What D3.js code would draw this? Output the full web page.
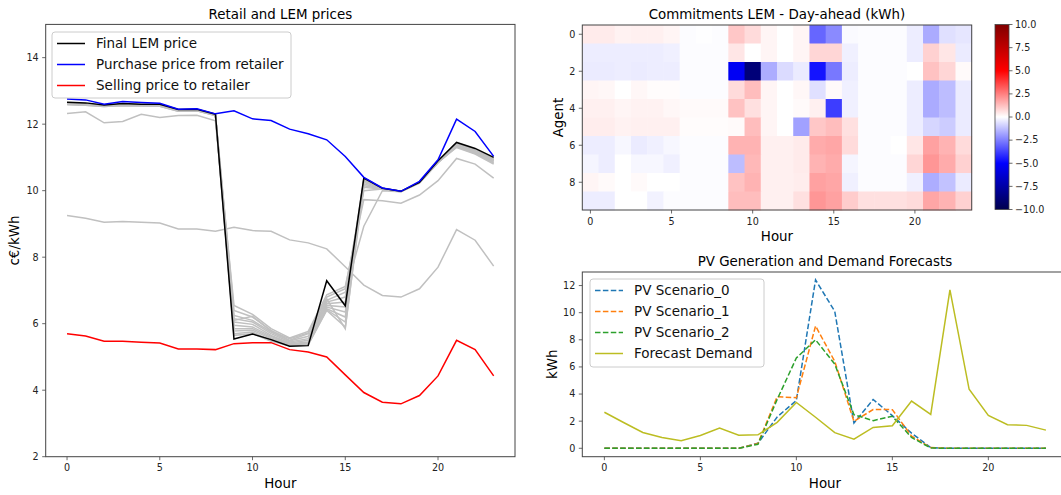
<!DOCTYPE html>
<html>
<head>
<meta charset="utf-8">
<script src="https://cdn.jsdelivr.net/npm/d3@7"></script>
<style>
  body { margin: 0; background: #fff; }
  svg { display: block; font-family: "DejaVu Sans", sans-serif; }
</style>
</head>
<body>
<svg id="fig" width="1061" height="495"></svg>
<script>
// ---- data ----
var hours = d3.range(0, 24)
var agents = d3.range(0, 10)

var finalLem = [12.66,12.64,12.58,12.62,12.60,12.60,12.44,12.45,12.30,5.54,5.69,5.52,5.32,5.34,7.29,6.54,10.38,10.07,9.98,10.25,10.90,11.45,11.27,11.00]
var purchasePrice = [12.76,12.73,12.60,12.68,12.65,12.63,12.45,12.46,12.31,12.40,12.16,12.11,11.85,11.71,11.53,11.03,10.40,10.08,9.98,10.28,10.93,12.15,11.78,11.03]
var sellingPrice = [5.70,5.63,5.47,5.47,5.44,5.42,5.24,5.24,5.22,5.40,5.43,5.43,5.22,5.15,5.00,4.46,3.93,3.64,3.59,3.84,4.43,5.50,5.22,4.43]

// intermediate LEM price iterations (grey)
var greyIterations = [
  [12.32,12.37,12.04,12.08,12.30,12.20,12.26,12.27,12.10,6.55,6.28,5.85,5.57,5.77,6.87,7.12,9.73,9.70,9.62,9.87,10.30,10.97,10.80,10.38],
  [9.25,9.17,9.05,9.07,9.05,9.03,8.85,8.85,8.78,8.90,8.80,8.78,8.52,8.43,8.25,7.71,7.16,6.85,6.80,7.05,7.70,8.83,8.51,7.73],
  [12.63,12.61,12.56,12.60,12.58,12.58,12.42,12.43,12.29,6.40,6.20,5.80,5.50,5.70,6.80,7.05,10.00,10.05,9.98,10.24,10.86,11.38,11.20,10.92],
  [12.61,12.59,12.55,12.58,12.57,12.56,12.41,12.42,12.28,6.25,6.10,5.75,5.48,5.62,6.70,6.95,8.93,10.00,9.97,10.23,10.84,11.35,11.16,10.88],
  [12.60,12.58,12.54,12.57,12.56,12.55,12.40,12.41,12.27,6.15,6.05,5.70,5.45,5.55,6.65,6.80,10.30,10.06,9.98,10.24,10.85,11.33,11.14,10.85],
  [12.62,12.60,12.55,12.59,12.57,12.57,12.41,12.42,12.28,6.05,5.98,5.65,5.42,5.50,6.60,6.65,10.20,10.05,9.98,10.24,10.86,11.36,11.18,10.90],
  [12.59,12.57,12.53,12.56,12.55,12.54,12.39,12.40,12.26,5.95,5.90,5.62,5.40,5.45,6.55,6.50,10.35,10.07,9.98,10.25,10.87,11.40,11.22,10.95],
  [12.61,12.59,12.54,12.58,12.56,12.56,12.40,12.41,12.27,5.85,5.85,5.58,5.38,5.42,6.50,6.35,10.10,10.04,9.97,10.24,10.85,11.32,11.12,10.83],
  [12.60,12.58,12.55,12.57,12.56,12.55,12.40,12.41,12.27,5.78,5.80,5.55,5.36,5.40,6.45,6.20,10.25,10.06,9.98,10.24,10.86,11.37,11.19,10.91],
  [12.62,12.60,12.56,12.59,12.58,12.57,12.42,12.42,12.28,5.70,5.75,5.50,5.35,5.38,6.42,6.05,10.32,10.07,9.98,10.25,10.87,11.41,11.23,10.96],
  [12.59,12.57,12.53,12.56,12.55,12.54,12.39,12.40,12.26,5.65,5.70,5.47,5.34,5.36,6.40,5.90,10.15,10.05,9.97,10.24,10.85,11.30,11.10,10.80],
  [12.61,12.59,12.55,12.58,12.57,12.56,12.41,12.41,12.28,6.10,6.22,5.78,5.55,5.72,6.75,5.85,10.36,10.07,9.98,10.25,10.86,11.39,11.21,10.94]
]

// day-ahead commitments, rows = agents, columns = hours
var commitments = [
  [0.4,0.4,0.25,0.3,0.3,0.2,-0.05,-0.02,-0.05,1.1,0.7,0.2,0,0.2,-3.0,-2.3,-0.1,-0.05,-0.05,-0.05,-0.35,-1.65,-0.6,-0.5],
  [-0.35,-0.35,-0.35,-0.35,-0.35,-0.3,-0.05,-0.05,-0.05,0.5,0,0.2,0,0.2,0.8,0.8,-0.3,-0.05,-0.05,-0.05,-0.35,0.9,0.5,-0.4],
  [-0.4,-0.4,-0.35,-0.4,-0.35,-0.35,-0.05,-0.05,-0.05,-5.3,-8.8,-1.6,-0.7,-0.4,-4.6,-2.65,-0.35,-0.05,-0.05,-0.05,0,1.2,0.8,0.1],
  [0.2,0.15,0,0.15,0.05,0.05,-0.05,-0.05,-0.05,0.7,1.3,0.2,0,0.15,-0.6,0.1,-0.3,-0.05,-0.05,-0.05,-0.35,-1.65,-1.3,-0.4],
  [0.3,0.3,0.2,0.25,0.25,0.15,0.1,0.1,0.1,1.2,0.6,0.2,0,0.1,0.3,-3.8,-0.3,-0.05,-0.05,-0.05,-0.35,-1.65,-1.3,-0.4],
  [0.35,0.35,0.25,0.3,0.3,0.3,0.05,0.05,0.05,0.1,1.3,0.2,0,-1.85,1.1,1.3,0.6,-0.05,-0.05,-0.05,-0.35,-0.8,-1.0,-0.4],
  [-0.35,-0.35,-0.15,-0.4,-0.3,-0.15,-0.05,-0.05,-0.05,1.5,1.5,0.3,0.3,0.4,1.65,1.75,0.7,-0.05,-0.05,0,0.5,1.85,1.5,0.7],
  [-0.2,-0.35,0,-0.15,-0.15,-0.3,-0.05,-0.05,-0.05,-1.3,1.4,0.3,0.3,0.4,1.5,1.65,-0.2,-0.05,-0.05,-0.05,0.8,2.05,1.65,0.9],
  [0.2,0.1,0,0.1,0,0,-0.05,-0.05,-0.05,1.2,1.5,0.3,0.3,0.35,1.85,1.75,-0.3,-0.05,-0.05,-0.05,-0.3,-1.6,-1.2,-0.4],
  [-0.35,-0.35,0,0,-0.25,-0.05,-0.05,-0.05,-0.05,1.3,1.3,0.3,0.3,0.6,2.05,1.85,1.0,0.6,0.6,0.6,0.7,1.75,1.5,0.9]
]

var pvScenario0 = [0,0,0,0,0,0,0,0,0.37,2.31,3.53,12.42,10.10,1.86,3.60,2.41,1.12,0.05,0,0,0,0,0,0]
var pvScenario1 = [0,0,0,0,0,0,0,0,0.35,3.80,3.73,9.02,6.41,1.99,2.86,2.85,0.90,0.05,0,0,0,0,0,0]
var pvScenario2 = [0,0,0,0,0,0,0,0,0.30,3.60,6.66,8.00,6.21,2.48,2.04,2.36,0.80,0.02,0,0,0,0,0,0]
var forecastDemand = [2.66,1.90,1.17,0.80,0.55,0.94,1.49,0.97,0.99,1.91,3.38,2.29,1.15,0.67,1.54,1.66,3.48,2.50,11.68,4.35,2.43,1.74,1.69,1.34]

var priceTicks = [2, 4, 6, 8, 10, 12, 14]
var hourTicks = [0, 5, 10, 15, 20]
var agentTicks = [0, 2, 4, 6, 8]
var cbarTicks = [-10, -7.5, -5, -2.5, 0, 2.5, 5, 7.5, 10]
var pvTicks = [0, 2, 4, 6, 8, 10, 12]

var svg = d3.select("#fig")
svg.append("rect").attr("width", 1061).attr("height", 495).attr("fill", "#fff")

var tickFont = 9.6
var labelFont = 13.4
var spine = "#444"

function drawAxes(g, x, y, xt, yt, xfmt, yfmt) {
  var x0 = x.range()[0], x1 = x.range()[1]
  var y0 = y.range()[0], y1 = y.range()[1]
  // ticks bottom
  xt.forEach(function (v) {
    g.append("line").attr("x1", x(v)).attr("x2", x(v)).attr("y1", y0).attr("y2", y0 + 3.5).attr("stroke", spine).attr("stroke-width", 0.8)
    g.append("text").attr("x", x(v)).attr("y", y0 + 14.5).attr("text-anchor", "middle")
      .style("font-size", tickFont + "px").attr("fill", "#222").text(xfmt ? xfmt(v) : v)
  })
  yt.forEach(function (v) {
    g.append("line").attr("x1", x0 - 3.5).attr("x2", x0).attr("y1", y(v)).attr("y2", y(v)).attr("stroke", spine).attr("stroke-width", 0.8)
    g.append("text").attr("x", x0 - 7).attr("y", y(v)).attr("dy", "0.35em").attr("text-anchor", "end")
      .style("font-size", tickFont + "px").attr("fill", "#222").text(yfmt ? yfmt(v) : v)
  })
  g.append("rect").attr("x", x0).attr("y", y1).attr("width", x1 - x0).attr("height", y0 - y1)
    .attr("fill", "none").attr("stroke", spine).attr("stroke-width", 1)
}

function drawLegend(g, x, y, w, h, items) {
  g.append("rect").attr("x", x).attr("y", y).attr("width", w).attr("height", h).attr("rx", 3)
    .attr("fill", "#fff").attr("fill-opacity", 0.8).attr("stroke", "#ccc").attr("stroke-width", 1)
  items.forEach(function (it, i) {
    var cy = y + 11.5 + i * 21
    g.append("line").attr("x1", x + 5).attr("x2", x + 33).attr("y1", cy).attr("y2", cy)
      .attr("stroke", it.color).attr("stroke-width", 1.5).attr("stroke-dasharray", it.dash || null)
    g.append("text").attr("x", x + 44).attr("y", cy).attr("dy", "0.36em")
      .style("font-size", "13.5px").attr("fill", "#111").text(it.name)
  })
}

// ---------- Retail and LEM prices ----------
var x1 = d3.scaleLinear().domain([-1.15, 24.15]).range([45.7, 515])
var y1 = d3.scaleLinear().domain([2, 15]).range([456.7, 24.4])
var g1 = svg.append("g")

var line1 = d3.line().x(function (d, i) { return x1(hours[i]) }).y(function (d) { return y1(d) })

g1.append("g").selectAll("path").data(greyIterations).join("path")
  .attr("d", line1).attr("fill", "none").attr("stroke", "#c0c0c0").attr("stroke-width", 1.5)

var mainSeries = [
  { name: "Final LEM price", values: finalLem, color: "#000000" },
  { name: "Purchase price from retailer", values: purchasePrice, color: "#0000ff" },
  { name: "Selling price to retailer", values: sellingPrice, color: "#ff0000" }
]
g1.append("g").selectAll("path").data(mainSeries).join("path")
  .attr("d", function (d) { return line1(d.values) })
  .attr("fill", "none").attr("stroke", function (d) { return d.color }).attr("stroke-width", 1.5)

drawAxes(g1, x1, y1, hourTicks, priceTicks)
g1.append("text").attr("x", (45.7 + 515) / 2).attr("y", 19).attr("text-anchor", "middle")
  .style("font-size", labelFont + "px").text("Retail and LEM prices")
g1.append("text").attr("x", (45.7 + 515) / 2).attr("y", 488).attr("text-anchor", "middle")
  .style("font-size", labelFont + "px").text("Hour")
g1.append("text").attr("transform", "translate(19," + (456.7 + 24.4) / 2 + ") rotate(-90)").attr("text-anchor", "middle")
  .style("font-size", labelFont + "px").text("c€/kWh")
drawLegend(g1, 52, 32, 239, 66, mainSeries)

// ---------- Commitments heatmap ----------
var x2 = d3.scaleLinear().domain([-0.5, 23.5]).range([582.3, 971.7])
var y2 = d3.scaleLinear().domain([9.5, -0.5]).range([210, 25])
var seismic = d3.scaleLinear().domain([-10, -5, 0, 5, 10])
  .range(["#00004d", "#0000ff", "#ffffff", "#ff0000", "#800000"]).clamp(true)
var g2 = svg.append("g")

var cells = []
commitments.forEach(function (row, a) {
  row.forEach(function (v, h) { cells.push({ agent: agents[a], hour: hours[h], value: v }) })
})
g2.append("g").selectAll("rect").data(cells).join("rect")
  .attr("x", function (d) { return x2(d.hour - 0.5) })
  .attr("y", function (d) { return y2(d.agent - 0.5) })
  .attr("width", x2(0.5) - x2(-0.5) + 0.5)
  .attr("height", y2(0.5) - y2(-0.5) + 0.5)
  .attr("fill", function (d) { return seismic(d.value) })

drawAxes(g2, x2, y2, hourTicks, agentTicks)
g2.append("text").attr("x", (582.3 + 971.7) / 2).attr("y", 19).attr("text-anchor", "middle")
  .style("font-size", labelFont + "px").text("Commitments LEM - Day-ahead (kWh)")
g2.append("text").attr("x", (582.3 + 971.7) / 2).attr("y", 241).attr("text-anchor", "middle")
  .style("font-size", labelFont + "px").text("Hour")
g2.append("text").attr("transform", "translate(563," + (25 + 210) / 2 + ") rotate(-90)").attr("text-anchor", "middle")
  .style("font-size", labelFont + "px").text("Agent")

// colorbar
var cb = d3.scaleLinear().domain([-10, 10]).range([209.5, 24.5])
var grad = svg.append("defs").append("linearGradient").attr("id", "seis")
  .attr("x1", 0).attr("y1", 1).attr("x2", 0).attr("y2", 0)
grad.selectAll("stop").data(seismic.domain()).join("stop")
  .attr("offset", function (d) { return (d + 10) / 20 })
  .attr("stop-color", function (d) { return seismic(d) })
g2.append("rect").attr("x", 995).attr("y", cb(10)).attr("width", 14).attr("height", cb(-10) - cb(10))
  .attr("fill", "url(#seis)").attr("stroke", spine).attr("stroke-width", 0.8)
cbarTicks.forEach(function (v) {
  g2.append("line").attr("x1", 1009).attr("x2", 1012.5).attr("y1", cb(v)).attr("y2", cb(v)).attr("stroke", spine).attr("stroke-width", 0.8)
  g2.append("text").attr("x", 1015).attr("y", cb(v)).attr("dy", "0.35em")
    .style("font-size", tickFont + "px").attr("fill", "#222")
    .text(d3.format(".1f")(v).replace("-", "\u2212"))
})

// ---------- PV generation and demand ----------
var x3 = d3.scaleLinear().domain([-1.15, 24.15]).range([582.3, 1068])
var y3 = d3.scaleLinear().domain([-0.62, 13.0]).range([456.7, 272])
var g3 = svg.append("g")
var line3 = d3.line().x(function (d, i) { return x3(hours[i]) }).y(function (d) { return y3(d) })

var pvSeries = [
  { name: "PV Scenario_0", values: pvScenario0, color: "#1f77b4", dash: "5.5,2.4" },
  { name: "PV Scenario_1", values: pvScenario1, color: "#ff7f0e", dash: "5.5,2.4" },
  { name: "PV Scenario_2", values: pvScenario2, color: "#2ca02c", dash: "5.5,2.4" },
  { name: "Forecast Demand", values: forecastDemand, color: "#bcbd22" }
]
g3.append("g").selectAll("path").data(pvSeries).join("path")
  .attr("d", function (d) { return line3(d.values) })
  .attr("fill", "none").attr("stroke", function (d) { return d.color }).attr("stroke-width", 1.5)
  .attr("stroke-dasharray", function (d) { return d.dash || null })

drawAxes(g3, x3, y3, hourTicks, pvTicks)
g3.append("text").attr("x", 825).attr("y", 266).attr("text-anchor", "middle")
  .style("font-size", labelFont + "px").text("PV Generation and Demand Forecasts")
g3.append("text").attr("x", 825).attr("y", 488).attr("text-anchor", "middle")
  .style("font-size", labelFont + "px").text("Hour")
g3.append("text").attr("transform", "translate(557," + (456.7 + 272) / 2 + ") rotate(-90)").attr("text-anchor", "middle")
  .style("font-size", labelFont + "px").text("kWh")
drawLegend(g3, 590, 279, 174, 88, pvSeries)
</script>
</body>
</html>
